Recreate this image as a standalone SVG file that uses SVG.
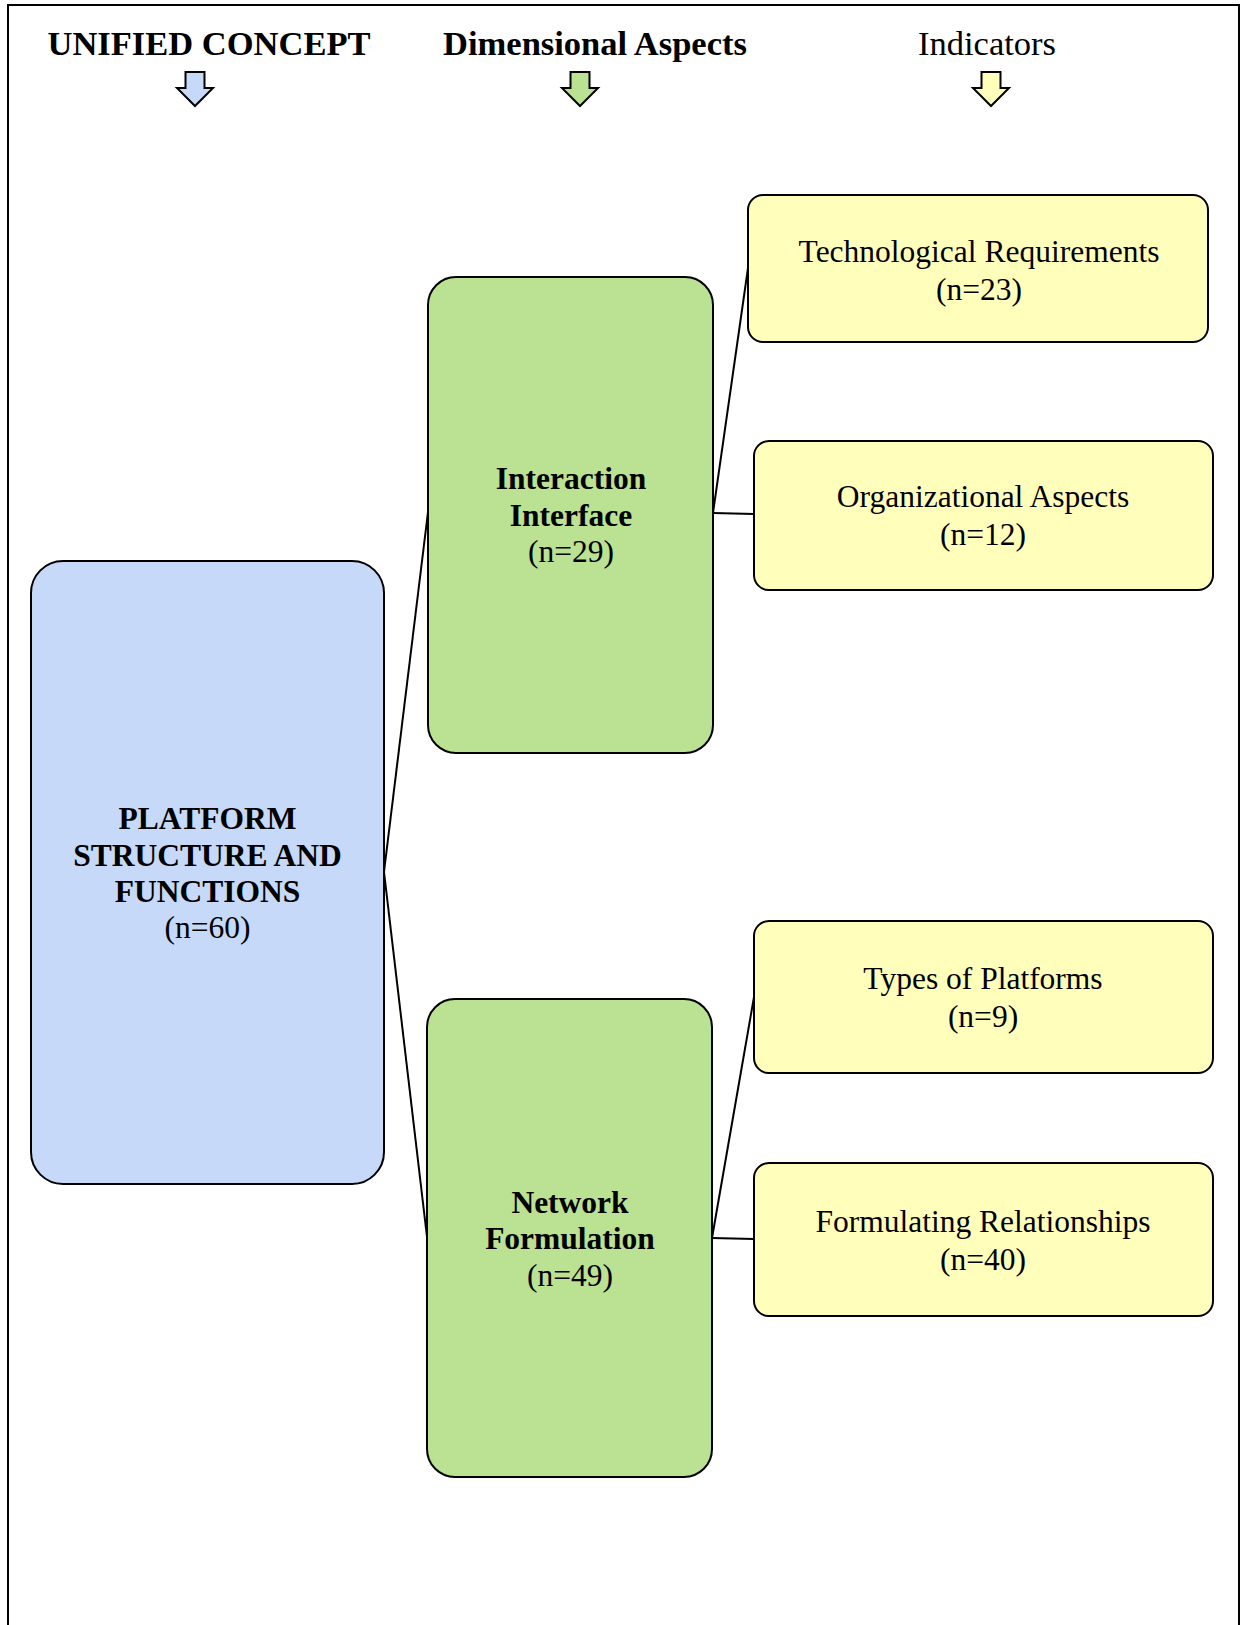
<svg xmlns="http://www.w3.org/2000/svg" width="1244" height="1625" viewBox="0 0 1244 1625">
  <style>
    .frame { fill: none; stroke: #000; stroke-width: 2; }
    .box { stroke: #000; stroke-width: 2; }
    .concept { fill: #C6D9F8; }
    .dimension { fill: #BBE192; }
    .indicator { fill: #FFFFBB; }
    .link { fill: none; stroke: #000; stroke-width: 2; }
    .head { font-family: "Liberation Serif", "Times New Roman", serif; font-size: 34.5px; fill: #000; text-anchor: middle; }
    .label { font-family: "Liberation Serif", "Times New Roman", serif; font-size: 31.5px; fill: #000; text-anchor: middle; }
    .b { font-weight: bold; }
  </style>
  <defs>
    <!-- block arrow pointing down, centred on x=0 -->
    <path id="down-arrow" d="M-9.5,72 H9.5 V88 H18 L0,106 L-18,88 H-9.5 Z" stroke="#000" stroke-width="2" stroke-linejoin="miter"/>
  </defs>

  <rect width="1244" height="1625" fill="#fff"/>
  <!-- outer frame (open at the bottom) -->
  <path class="frame" d="M8,1625 V5 H1239 V1625"/>

  <!-- column headings -->
  <g id="headings">
    <text class="head b" x="209" y="55">UNIFIED CONCEPT</text>
    <use href="#down-arrow" x="195" y="0" fill="#C6D9F8"/>
    <text class="head b" x="595" y="55">Dimensional Aspects</text>
    <use href="#down-arrow" x="580" y="0" fill="#BBE192"/>
    <text class="head" x="987" y="55">Indicators</text>
    <use href="#down-arrow" x="991" y="0" fill="#FFFFBB"/>
  </g>

  <!-- connectors -->
  <g id="connectors">
    <line class="link" x1="384" y1="872" x2="428" y2="512"/>
    <line class="link" x1="384" y1="872" x2="427" y2="1237"/>
    <line class="link" x1="713" y1="513" x2="748" y2="268"/>
    <line class="link" x1="713" y1="513" x2="754" y2="514"/>
    <line class="link" x1="712" y1="1238" x2="754" y2="997"/>
    <line class="link" x1="712" y1="1238" x2="754" y2="1239"/>
  </g>

  <g id="platform-structure">
    <rect class="box concept" x="31" y="561" width="353" height="623" rx="32" ry="32"/>
    <text class="label b" x="207.5" y="829">PLATFORM</text>
    <text class="label b" x="207.5" y="866">STRUCTURE AND</text>
    <text class="label b" x="207.5" y="902">FUNCTIONS</text>
    <text class="label" x="207.5" y="938">(n=60)</text>
  </g>

  <g id="interaction-interface">
    <rect class="box dimension" x="428" y="277" width="285" height="476" rx="28" ry="28"/>
    <text class="label b" x="571" y="489">Interaction</text>
    <text class="label b" x="571" y="526">Interface</text>
    <text class="label" x="571" y="562">(n=29)</text>
  </g>

  <g id="network-formulation">
    <rect class="box dimension" x="427" y="999" width="285" height="478" rx="28" ry="28"/>
    <text class="label b" x="570" y="1213">Network</text>
    <text class="label b" x="570" y="1249">Formulation</text>
    <text class="label" x="570" y="1286">(n=49)</text>
  </g>

  <g id="technological-requirements">
    <rect class="box indicator" x="748" y="195" width="460" height="147" rx="15" ry="15"/>
    <text class="label" x="979" y="262">Technological Requirements</text>
    <text class="label" x="979" y="300">(n=23)</text>
  </g>

  <g id="organizational-aspects">
    <rect class="box indicator" x="754" y="441" width="459" height="149" rx="15" ry="15"/>
    <text class="label" x="983" y="507">Organizational Aspects</text>
    <text class="label" x="983" y="545">(n=12)</text>
  </g>

  <g id="types-of-platforms">
    <rect class="box indicator" x="754" y="921" width="459" height="152" rx="15" ry="15"/>
    <text class="label" x="983" y="989">Types of Platforms</text>
    <text class="label" x="983" y="1027">(n=9)</text>
  </g>

  <g id="formulating-relationships">
    <rect class="box indicator" x="754" y="1163" width="459" height="153" rx="15" ry="15"/>
    <text class="label" x="983" y="1232">Formulating Relationships</text>
    <text class="label" x="983" y="1270">(n=40)</text>
  </g>
</svg>
